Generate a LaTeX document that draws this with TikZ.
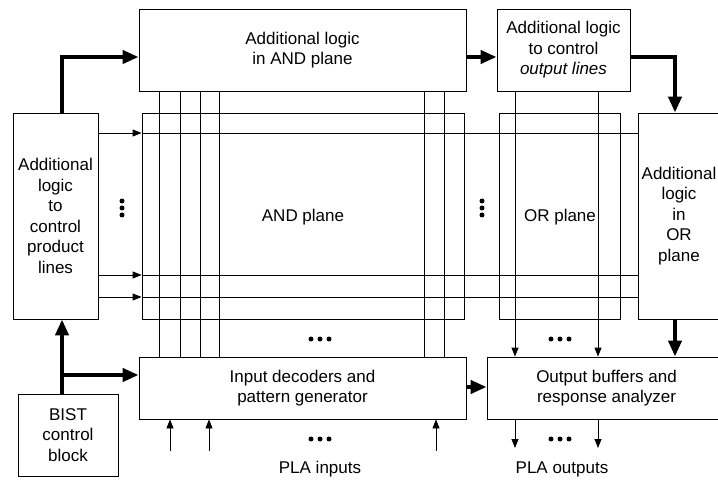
\documentclass[tikz,border=0pt]{standalone}
\usepackage{fontspec}
\setmainfont{Liberation Sans}
\usetikzlibrary{arrows.meta}
\tikzset{
  blk/.style={draw, line width=0.8pt, fill=white, align=center, inner sep=0pt,
    font=\fontsize{17}{20.5}\selectfont},
  lbl/.style={align=center, font=\fontsize{17}{20.5}\selectfont},
  wire/.style={line width=0.8pt},
  warr/.style={line width=0.8pt, -{Triangle[length=9pt,width=7pt]}},
  bus/.style={line width=4pt, -{Triangle[length=16pt,width=13pt]}},
}
\newcommand{\rowdots}[2]{\foreach \d in {-9,0,9} \fill (#1+\d,#2) circle [radius=2.5];}
\newcommand{\coldots}[2]{\foreach \d in {-7,0,7} \fill (#1,#2+\d) circle [radius=2.5];}
\begin{document}
\begin{tikzpicture}[x=1pt, y=-1pt]
\useasboundingbox (0,0) rectangle (718,489);
% Planes
\node[blk, minimum width=322, minimum height=206] (andp) at (303,216) {};
\node[blk, minimum width=121, minimum height=206] (orp) at (559.5,216) {};
\node[lbl] (andt) at (303,217) {AND plane};
\node[lbl] (ort) at (560,217) {OR plane};
% Additional logic blocks
\node[blk, minimum width=85, minimum height=206] (ctrl) at (55.5,216) {Additional\\logic\\to\\control\\product\\lines};
\node[blk, minimum width=327, minimum height=82] (andlog) at (302.5,50) {Additional logic\\in AND plane};
\node[blk, minimum width=133, minimum height=82] (outlog) at (563.5,50) {Additional logic\\to control\\\textit{output lines}};
\node[blk, minimum width=90, minimum height=206] (orlog) at (683,216) {};
\node[lbl] (orlt) at (679,216) {Additional\\logic\\in\\OR\\plane};
\node[blk, minimum width=327, minimum height=62] (indec) at (302.5,388) {Input decoders and\\pattern generator};
\node[blk, minimum width=239, minimum height=62] (outbuf) at (606.5,388) {Output buffers and\\response analyzer};
\node[blk, minimum width=100, minimum height=82] (bist) at (68,435) {BIST\\control\\block};
\node[lbl] (pin) at (320,469) {PLA inputs};
\node[lbl] (pout) at (562,469) {PLA outputs};
% Product lines
\foreach \y in {133,275,297} {
  \draw[warr] (ctrl.east |- 0,\y) -- (andp.west |- 0,\y);
  \draw[wire] (andp.west |- 0,\y) -- (orlog.west |- 0,\y);
}
% Input lines
\foreach \x in {159,180,200,219,424,444}
  \draw[wire] (andlog.south -| \x,0) -- (indec.north -| \x,0);
% Output lines
\foreach \x in {515,598} {
  \coordinate (po\x) at (\x,448);
  \draw[warr] (outlog.south -| \x,0) -- (outbuf.north -| \x,0);
  \draw[warr] (outbuf.south -| \x,0) -- (po\x);
}
\foreach \x in {170,209,436} {
  \coordinate (pi\x) at (\x,451);
  \draw[warr] (pi\x) -- (indec.south -| pi\x);
}
% Test control
\coordinate (br) at (62,375);
\draw[bus] (ctrl.north -| 62,0) |- (andlog.west |- 0,57);
\draw[bus] (andlog.east |- 0,57) -- (outlog.west |- 0,57);
\draw[bus] (outlog.east |- 0,57) -| (orlog.north -| 675,0);
\draw[bus] (orlog.south -| 675,0) -- (outbuf.north -| 675,0);
\draw[bus] (bist.north -| br) -- (ctrl.south -| br);
\draw[bus] (br) -- (indec.west |- br);
\draw[bus] (indec.east |- 0,387) -- (outbuf.west |- 0,387);
% Dots
\coldots{122}{208}
\coldots{482}{208}
\rowdots{320}{339}
\rowdots{320}{439}
\rowdots{560}{339}
\rowdots{560}{439}
\end{tikzpicture}
\end{document}
